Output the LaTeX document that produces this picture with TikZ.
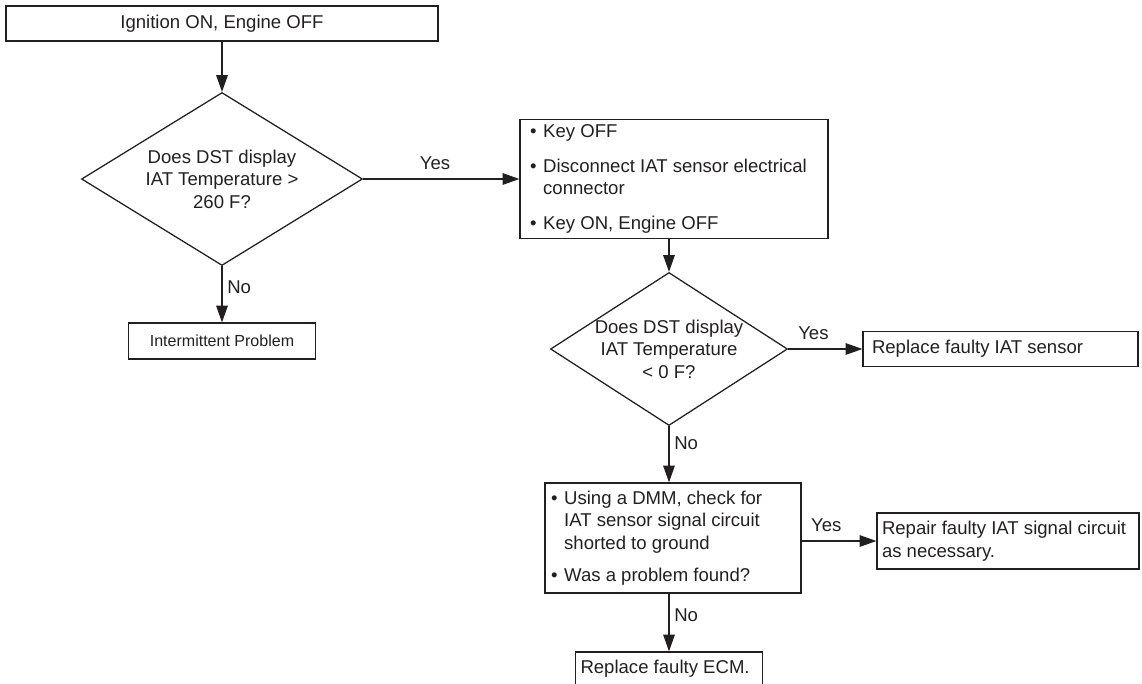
\documentclass[tikz,border=0pt]{standalone}
\usepackage{fontspec}
\setmainfont{Liberation Sans}
\usetikzlibrary{arrows.meta,positioning,shapes.geometric}
\definecolor{ink}{RGB}{35,31,32}
\newcommand{\bul}{\makebox[0.33cm][l]{\textbullet}}
\newcommand{\ind}{\hspace*{0.33cm}}

\begin{document}
\begin{tikzpicture}[font=\fontsize{13.2}{16}\selectfont,>={Triangle[length=0.42cm,width=0.29cm]},line width=0.9pt,draw=ink,text=ink,
  box/.style={draw,align=flush left,inner ysep=0pt},
  decision/.style={draw,diamond,inner sep=0pt}]
\useasboundingbox (0,0) rectangle (28.55,-17.075);
\node[draw,minimum width=10.8cm,minimum height=0.875cm] (start) at (5.55,-0.5875) {Ignition ON, Engine OFF};
\node[decision,minimum width=7.025cm,minimum height=4.325cm,label={[align=center]center:Does DST display\\IAT Temperature >\\260 F?}] (dst1) at (5.55,-4.475) {};
\node[draw,font=\fontsize{11.4}{13.7}\selectfont,minimum width=4.675cm,minimum height=0.9cm] (intm) at (5.55,-8.525) {Intermittent Problem};
\node[box,text width=7.2cm,inner xsep=0.25cm,minimum height=2.975cm] (keys) at (16.85,-4.475) {\bul Key OFF\\[0.3cm]\bul Disconnect IAT sensor electrical\\\ind connector\\[0.3cm]\bul Key ON, Engine OFF};
\node[decision,minimum width=5.925cm,minimum height=3.825cm,label={[align=center]center:Does DST display\\IAT Temperature\\< 0 F?}] (dst2) at (16.725,-8.725) {};
\node[box,text width=6.425cm,inner xsep=0.225cm,minimum height=0.875cm] (sensor) at (25.0125,-8.725) {Replace faulty IAT sensor};
\node[box,text width=6.1cm,inner xsep=0.15cm,minimum height=2.75cm] (dmm) at (16.825,-13.45) {\bul Using a DMM, check for\\\ind IAT sensor signal circuit\\\ind shorted to ground\\[0.25cm]\bul Was a problem found?};
\node[box,text width=6.3cm,inner xsep=0.125cm,minimum height=1.4cm] (repair) at (25.2,-13.525) {Repair faulty IAT signal circuit\\as necessary.};
\node[box,text width=4.425cm,inner xsep=0.125cm,minimum height=0.85cm] (ecm) at (16.725,-16.725) {Replace faulty ECM.};
\draw[->] (start) -- (dst1);
\draw[->] (dst1) -- node[above=3pt,pos=.46]{Yes} (keys);
\draw[->] (dst1) -- node[right,pos=.37]{No} (intm);
\draw[->] (keys.south -| dst2) -- (dst2);
\draw[->] (dst2) -- node[above=3pt,pos=.34]{Yes} (sensor);
\draw[->] (dst2) -- node[right,pos=.3]{No} (dst2.south |- dmm.north);
\draw[->] (dmm.east |- repair) -- node[above=3pt,pos=.33]{Yes} (repair);
\draw[->] (dmm.south -| ecm) -- node[right,pos=.37]{No} (ecm);
\end{tikzpicture}
\end{document}
